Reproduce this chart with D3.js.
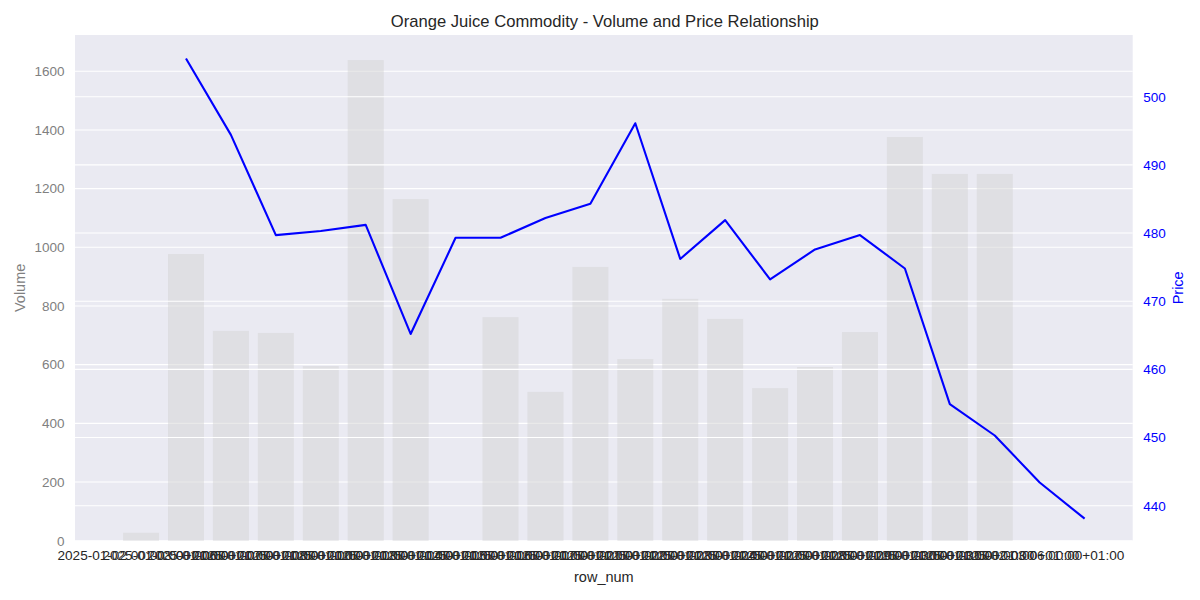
<!DOCTYPE html>
<html>
<head>
<meta charset="utf-8">
<script src="https://cdn.jsdelivr.net/npm/d3@7"></script>
<style>
  html, body { margin: 0; padding: 0; background: #ffffff; }
  svg text { font-family: "Liberation Sans", Arial, sans-serif; }
</style>
</head>
<body>
<svg id="chart" width="1200" height="600"></svg>
<script>
// ---- data ----
const categories = [0,1,2,3,4,5,6,7,8,9,10,11,12,13,14,15,16,17,18,19,20,21,22];
const volume = [null, 27, 977, 715, 708, 595, 1638, 1164, null, 762, 507, 933, 619, 824, 756, 520, 592, 711, 1376, 1250, 1250, null, null];
const price = [null, null, 505.6, 494.4, 479.7, 480.3, 481.2, 465.2, 479.3, 479.3, 482.2, 484.3, 496.1, 476.2, 481.9, 473.2, 477.6, 479.7, 474.8, 454.9, 450.3, 443.4, 438.1];
const tickPositions = [1,2,3,4,5,6,7,8,9,10,11,12,13,14,15,16,17,18,19,20,21];
const tickLabels = [
  "2025-01-02 00:00:00+01:00","2025-01-03 00:00:00+01:00","2025-01-06 00:00:00+01:00",
  "2025-01-07 00:00:00+01:00","2025-01-08 00:00:00+01:00","2025-01-10 00:00:00+01:00",
  "2025-01-13 00:00:00+01:00","2025-01-14 00:00:00+01:00","2025-01-15 00:00:00+01:00",
  "2025-01-16 00:00:00+01:00","2025-01-17 00:00:00+01:00","2025-01-21 00:00:00+01:00",
  "2025-01-22 00:00:00+01:00","2025-01-23 00:00:00+01:00","2025-01-24 00:00:00+01:00",
  "2025-01-27 00:00:00+01:00","2025-01-28 00:00:00+01:00","2025-01-29 00:00:00+01:00",
  "2025-01-30 00:00:00+01:00","2025-01-31 00:00:00+01:00","2025-02-03 06:00:00+01:00"
];
const volumeTicks = [0,200,400,600,800,1000,1200,1400,1600];
const priceTicks = [440,450,460,470,480,490,500];

// ---- layout ----
const L = 75, R = 1132.7, T = 35, B = 540.7;
const svg = d3.select("#chart");

const x = d3.scaleLinear().domain([-0.47, 23.07]).range([L, R]);
const yV = d3.scaleLinear().domain([0, 1723.6]).range([B, T]);
const yP = d3.scaleLinear().domain([434.87, 509.05]).range([B, T]);
const barW = x(0.8) - x(0);

// background
svg.append("rect").attr("x", L).attr("y", T).attr("width", R - L).attr("height", B - T).attr("fill", "#EAEAF2");

// left grid (under bars)
svg.append("g").selectAll("line").data(volumeTicks).join("line")
  .attr("x1", L).attr("x2", R)
  .attr("y1", d => yV(d)).attr("y2", d => yV(d))
  .attr("stroke", "#ffffff").attr("stroke-width", 1.1);

// bars
svg.append("g").selectAll("rect").data(categories.filter(i => volume[i] != null)).join("rect")
  .attr("x", i => x(i) - barW / 2)
  .attr("width", barW)
  .attr("y", i => yV(volume[i]))
  .attr("height", i => yV(0) - yV(volume[i]))
  .attr("fill", "#d3d3d3").attr("fill-opacity", 0.5);

// right grid (over bars)
svg.append("g").selectAll("line").data(priceTicks).join("line")
  .attr("x1", L).attr("x2", R)
  .attr("y1", d => yP(d)).attr("y2", d => yP(d))
  .attr("stroke", "#ffffff").attr("stroke-width", 1.1);

// price line
const line = d3.line()
  .defined(i => price[i] != null)
  .x(i => x(i)).y(i => yP(price[i]));
svg.append("path").datum(categories)
  .attr("d", line).attr("fill", "none")
  .attr("stroke", "#0000ff").attr("stroke-width", 2.1)
  .attr("stroke-linejoin", "round");

// left axis
const axL = d3.axisLeft(yV).tickValues(volumeTicks).tickFormat(d3.format("d")).tickSize(0).tickPadding(10.5);
const gL = svg.append("g").attr("transform", `translate(${L},0)`).call(axL);
gL.select(".domain").remove();
gL.selectAll("text").attr("fill", "#808080").attr("font-size", "13.5px")
  .style("font-family", '"Liberation Sans", Arial, sans-serif');

// right axis
const axR = d3.axisRight(yP).tickValues(priceTicks).tickFormat(d3.format("d")).tickSize(0).tickPadding(10.5);
const gR = svg.append("g").attr("transform", `translate(${R},0)`).call(axR);
gR.select(".domain").remove();
gR.selectAll("text").attr("fill", "#0000ff").attr("font-size", "13.5px")
  .style("font-family", '"Liberation Sans", Arial, sans-serif');

// bottom axis
const axB = d3.axisBottom(x).tickValues(tickPositions)
  .tickFormat((d, i) => tickLabels[i]).tickSize(0).tickPadding(10);
const gB = svg.append("g").attr("transform", `translate(0,${B})`).call(axB);
gB.select(".domain").remove();
gB.selectAll("text").attr("fill", "#262626").attr("font-size", "13.6px")
  .style("font-family", '"Liberation Sans", Arial, sans-serif');

// labels
svg.append("text").attr("x", (L + R) / 2 + 1).attr("y", 26.5)
  .attr("text-anchor", "middle").attr("font-size", "16.6px").attr("fill", "#262626")
  .text("Orange Juice Commodity - Volume and Price Relationship");

svg.append("text").attr("x", (L + R) / 2).attr("y", 582)
  .attr("text-anchor", "middle").attr("font-size", "14.5px").attr("fill", "#262626")
  .text("row_num");

svg.append("text").attr("transform", `translate(25,${(T + B) / 2}) rotate(-90)`)
  .attr("text-anchor", "middle").attr("font-size", "14.5px").attr("fill", "#808080")
  .text("Volume");

svg.append("text").attr("transform", `translate(1183,${(T + B) / 2}) rotate(-90)`)
  .attr("text-anchor", "middle").attr("font-size", "14.5px").attr("fill", "#0000ff")
  .text("Price");
</script>
</body>
</html>
